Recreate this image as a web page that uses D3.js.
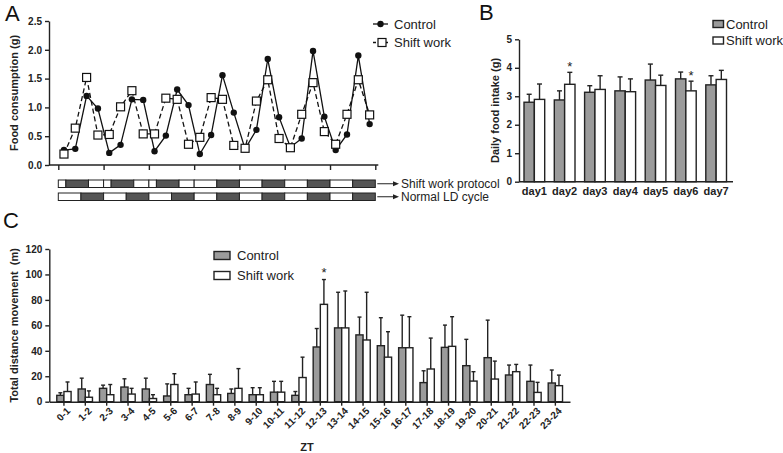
<!DOCTYPE html>
<html lang="en">
    <head>
        <meta charset="utf-8">
        <title>Shift work feeding and activity</title>
        <script type="text/javascript" src="https://d3js.org/d3.v7.min.js"></script>
        <style>
            body {
                margin: 0;
                background: white;
                font-family: Arial, "Liberation Sans", sans-serif;
            }
            .panelLetter { font-size: 22px; fill: #111; }
            .tick text { font-weight: bold; font-size: 10px; fill: #222; font-family: Arial, "Liberation Sans", sans-serif; }
            .axis path, .axis line { stroke: #222; stroke-width: 1.4; }
            .axisTitle { font-weight: bold; font-size: 11px; fill: #222; }
            .legendText { font-size: 13px; fill: #222; }
            .bar { stroke: #222; stroke-width: 1.4; }
            .err { stroke: #222; stroke-width: 1.4; fill: none; }
        </style>
    </head>
    <body>
        <div id="svgContainer"></div>
        <script type="text/javascript">
            //panel A: food consumption every 6 h over 7 days
            let foodControl = [0.26, 0.28, 1.20, 0.98, 0.21, 0.35, 1.14, 1.13, 0.24, 0.51, 1.31, 1.04,
                               0.19, 0.52, 1.56, 0.91, 0.28, 0.61, 1.84, 0.83, 0.31, 0.46, 1.98, 0.84,
                               0.26, 0.53, 1.90, 0.71];
            let foodShift = [0.19, 0.64, 1.52, 0.52, 0.53, 1.01, 1.29, 0.54, 0.54, 1.16, 1.14, 0.36,
                             0.48, 1.17, 1.14, 0.34, 0.29, 1.11, 1.48, 0.46, 0.30, 0.88, 1.43, 0.58,
                             0.36, 0.88, 1.48, 0.87];
            let foodTicks = [0, 0.5, 1, 1.5, 2, 2.5];
            //dark period (hours) for each day
            let shiftDark = [[4, 16], [4, 16], [4, 16], [12, 24], [12, 24], [12, 24], [12, 24]];
            let normalDark = [[12, 24], [12, 24], [12, 24], [12, 24], [12, 24], [12, 24], [12, 24]];

            //panel B: daily food intake
            let days = ["day1", "day2", "day3", "day4", "day5", "day6", "day7"];
            let intakeControl = [2.79, 2.87, 3.14, 3.19, 3.57, 3.61, 3.40];
            let intakeControlErr = [0.28, 0.32, 0.23, 0.49, 0.56, 0.24, 0.32];
            let intakeShift = [2.89, 3.42, 3.24, 3.16, 3.38, 3.19, 3.59];
            let intakeShiftErr = [0.54, 0.42, 0.48, 0.45, 0.36, 0.34, 0.32];
            let intakeStars = ["day2", "day6"];

            //panel C: total distance movement per ZT hour
            let ztBins = ["0-1", "1-2", "2-3", "3-4", "4-5", "5-6", "6-7", "7-8", "8-9", "9-10", "10-11", "11-12",
                          "12-13", "13-14", "14-15", "15-16", "16-17", "17-18", "18-19", "19-20", "20-21", "21-22", "22-23", "23-24"];
            let moveControl = [5, 10, 10.5, 11.5, 10, 4.5, 5.5, 13.5, 6.5, 5.5, 7.5, 5,
                               43, 58, 52.5, 44, 42.4, 15, 42.7, 28.3, 34.6, 21, 16, 14.7];
            let moveControlErr = [2, 8.5, 2.5, 6.5, 8.5, 9.5, 5, 8, 3.5, 5.5, 8.5, 3,
                                  14.5, 28, 14, 22, 25.6, 9.3, 17.5, 20.7, 29.5, 7.8, 12.8, 10.2];
            let moveShift = [8, 3.5, 5.5, 6, 2.5, 13.5, 6, 5.5, 10.5, 5.5, 7.5, 19,
                             76.5, 58, 48.5, 35, 42.4, 25.7, 43.5, 16.2, 17.8, 23.6, 7.3, 12.6];
            let moveShiftErr = [7.5, 5, 8, 4.5, 3, 8.5, 9.5, 5, 15.5, 5.5, 8.5, 16,
                                19.5, 29, 37.5, 20, 24.4, 24.3, 23.3, 7.4, 14.1, 5.7, 7.9, 8.3];
            let moveTicks = [0, 20, 40, 60, 80, 100, 120];
            let moveStars = ["12-13"];

            let w = 783, h = 453;
            let svg = d3.select("#svgContainer")
                        .append("svg")
                        .attr("width", w)
                        .attr("height", h);

            //panel letters
            svg.append("text").attr("class", "panelLetter").attr("x", 5).attr("y", 21).text("A");
            svg.append("text").attr("class", "panelLetter").attr("x", 479).attr("y", 20).text("B");
            svg.append("text").attr("class", "panelLetter").attr("x", 3).attr("y", 228).text("C");

            // ---------- panel A ----------
            let xA = d3.scaleLinear().domain([0, 168]).range([58.3, 375.3]);
            let yA = d3.scaleLinear().domain([0, 2.5]).range([165, 21]);
            let hours = foodControl.map((d, i) => i * 6 + 3);

            svg.append("g")
                .attr("class", "axis")
                .attr("transform", "translate(49, 0)")
                .call(d3.axisLeft(yA).tickValues(foodTicks).tickFormat(d3.format(".1f")).tickSize(4).tickSizeOuter(0));

            svg.append("line")
                .attr("x1", 49).attr("x2", xA(168) + 3)
                .attr("y1", yA(0)).attr("y2", yA(0))
                .attr("stroke", "#222").attr("stroke-width", 1.4);

            svg.append("g")
                .attr("class", "axis")
                .attr("transform", `translate(0, ${yA(0)})`)
                .call(d3.axisBottom(xA).tickValues(d3.range(0, 169, 24)).tickFormat("").tickSize(5).tickSizeOuter(0))
                .select(".domain").remove();

            svg.append("text")
                .attr("class", "axisTitle")
                .attr("transform", `translate(18, ${yA(1.25)}) rotate(-90)`)
                .attr("text-anchor", "middle")
                .text("Food consumption (g)");

            let lineA = d3.line().x((d, i) => xA(hours[i])).y(d => yA(d));

            svg.append("path")
                .datum(foodShift)
                .attr("d", lineA)
                .attr("fill", "none")
                .attr("stroke", "#111")
                .attr("stroke-width", 1.3)
                .attr("stroke-dasharray", "5,3");

            svg.append("path")
                .datum(foodControl)
                .attr("d", lineA)
                .attr("fill", "none")
                .attr("stroke", "#111")
                .attr("stroke-width", 1.3);

            svg.selectAll(".ptControl")
                .data(foodControl)
                .enter()
                .append("circle")
                .attr("class", "ptControl")
                .attr("cx", (d, i) => xA(hours[i]))
                .attr("cy", d => yA(d))
                .attr("r", 3.2)
                .attr("fill", "#111");

            svg.selectAll(".ptShift")
                .data(foodShift)
                .enter()
                .append("rect")
                .attr("class", "ptShift")
                .attr("x", (d, i) => xA(hours[i]) - 4)
                .attr("y", d => yA(d) - 4)
                .attr("width", 8)
                .attr("height", 8)
                .attr("fill", "white")
                .attr("stroke", "#111")
                .attr("stroke-width", 1.2);

            //legend A
            let legA = svg.append("g");
            legA.append("line").attr("x1", 373).attr("x2", 388).attr("y1", 24).attr("y2", 24)
                .attr("stroke", "#111").attr("stroke-width", 1.3);
            legA.append("circle").attr("cx", 380.5).attr("cy", 24).attr("r", 3.2).attr("fill", "#111");
            legA.append("text").attr("class", "legendText").attr("x", 394).attr("y", 28.5).text("Control");
            legA.append("line").attr("x1", 373).attr("x2", 390).attr("y1", 42.5).attr("y2", 42.5)
                .attr("stroke", "#111").attr("stroke-width", 1.3).attr("stroke-dasharray", "3,3");
            legA.append("rect").attr("x", 378).attr("y", 38.5).attr("width", 8).attr("height", 8)
                .attr("fill", "white").attr("stroke", "#111").attr("stroke-width", 1.2);
            legA.append("text").attr("class", "legendText").attr("x", 394).attr("y", 47).text("Shift work");

            //light/dark protocol rows
            const drawRow = (dark, y0, label) => {
                let segs = [];
                dark.forEach((d, i) => {
                    let base = i * 24;
                    if (d[0] > 0) segs.push([base, base + d[0], false]);
                    segs.push([base + d[0], base + d[1], true]);
                    if (d[1] < 24) segs.push([base + d[1], base + 24, false]);
                });
                svg.selectAll(null)
                    .data(segs)
                    .enter()
                    .append("rect")
                    .attr("x", d => xA(d[0]))
                    .attr("y", y0)
                    .attr("width", d => xA(d[1]) - xA(d[0]))
                    .attr("height", 7.5)
                    .attr("fill", d => d[2] ? "#555" : "white")
                    .attr("stroke", "#222")
                    .attr("stroke-width", 1);
                let yc = y0 + 3.75;
                svg.append("line")
                    .attr("x1", xA(168) + 2).attr("x2", 395)
                    .attr("y1", yc).attr("y2", yc)
                    .attr("stroke", "#222").attr("stroke-width", 1);
                svg.append("path")
                    .attr("d", `M399,${yc} L393,${yc - 2.5} L393,${yc + 2.5} Z`)
                    .attr("fill", "#222");
                svg.append("text")
                    .attr("x", 401)
                    .attr("y", yc + 4)
                    .attr("font-size", "12px")
                    .attr("fill", "#222")
                    .text(label);
            };
            drawRow(shiftDark, 180, "Shift work protocol");
            drawRow(normalDark, 193, "Normal LD cycle");

            // ---------- panel B ----------
            let xB = d3.scaleBand().domain(days).range([519, 731.5]).paddingInner(0.317).paddingOuter(0.165);
            let yB = d3.scaleLinear().domain([0, 5]).range([181.7, 39.3]);
            let bwB = xB.bandwidth() / 2;

            svg.append("g")
                .attr("class", "axis")
                .attr("transform", "translate(519, 0)")
                .call(d3.axisLeft(yB).ticks(5).tickSize(4).tickSizeOuter(0));

            let xAxisB = svg.append("g")
                .attr("class", "axis")
                .attr("transform", `translate(0, ${yB(0)})`)
                .call(d3.axisBottom(xB).tickSize(0).tickPadding(6).tickSizeOuter(0));
            xAxisB.select(".domain").attr("d", `M519,0H733`);
            xAxisB.selectAll(".tick text").style("font-size", "11px");

            svg.append("text")
                .attr("class", "axisTitle")
                .attr("transform", `translate(499, ${yB(2.5)}) rotate(-90)`)
                .attr("text-anchor", "middle")
                .text("Daily food intake (g)");

            const drawBars = (xs, ys, cats, vals, errs, offset, fill, bw, cap) => {
                svg.selectAll(null)
                    .data(cats)
                    .enter()
                    .append("line")
                    .attr("class", "err")
                    .attr("x1", d => xs(d) + offset + bw / 2)
                    .attr("x2", d => xs(d) + offset + bw / 2)
                    .attr("y1", (d, i) => ys(vals[i]))
                    .attr("y2", (d, i) => ys(vals[i] + errs[i]));
                svg.selectAll(null)
                    .data(cats)
                    .enter()
                    .append("line")
                    .attr("class", "err")
                    .attr("x1", d => xs(d) + offset + bw / 2 - cap)
                    .attr("x2", d => xs(d) + offset + bw / 2 + cap)
                    .attr("y1", (d, i) => ys(vals[i] + errs[i]))
                    .attr("y2", (d, i) => ys(vals[i] + errs[i]));
                svg.selectAll(null)
                    .data(cats)
                    .enter()
                    .append("rect")
                    .attr("class", "bar")
                    .attr("x", d => xs(d) + offset)
                    .attr("y", (d, i) => ys(vals[i]))
                    .attr("width", bw)
                    .attr("height", (d, i) => ys(0) - ys(vals[i]))
                    .attr("fill", fill);
            };

            drawBars(xB, yB, days, intakeControl, intakeControlErr, 0, "#9b9b9b", bwB, 2.5);
            drawBars(xB, yB, days, intakeShift, intakeShiftErr, bwB, "white", bwB, 2.5);

            svg.selectAll(null)
                .data(intakeStars)
                .enter()
                .append("text")
                .attr("x", d => xB(d) + bwB * 1.5)
                .attr("y", d => yB(intakeShift[days.indexOf(d)] + intakeShiftErr[days.indexOf(d)]) - 1)
                .attr("text-anchor", "middle")
                .attr("font-size", "13px")
                .attr("fill", "#222")
                .text("*");

            //legend B
            svg.append("rect").attr("class", "bar").attr("x", 713).attr("y", 20.5).attr("width", 10.5).attr("height", 7)
                .attr("fill", "#9b9b9b");
            svg.append("text").attr("class", "legendText").attr("x", 726).attr("y", 28.5).text("Control");
            svg.append("rect").attr("class", "bar").attr("x", 713).attr("y", 37).attr("width", 10.5).attr("height", 7)
                .attr("fill", "white");
            svg.append("text").attr("class", "legendText").attr("x", 726).attr("y", 45).text("Shift work");

            // ---------- panel C ----------
            let xC = d3.scaleBand().domain(ztBins).range([49.3, 570]).paddingInner(0.33).paddingOuter(0.35);
            let yC = d3.scaleLinear().domain([0, 120]).range([401.7, 249]);
            let bwC = xC.bandwidth() / 2;

            svg.append("g")
                .attr("class", "axis")
                .attr("transform", "translate(49.3, 0)")
                .call(d3.axisLeft(yC).tickValues(moveTicks).tickSize(4).tickSizeOuter(0));

            let xAxisC = svg.append("g")
                .attr("class", "axis")
                .attr("transform", `translate(0, ${yC(0)})`)
                .call(d3.axisBottom(xC).tickSize(4).tickSizeOuter(0));
            xAxisC.selectAll(".tick text")
                .style("text-anchor", "end")
                .attr("dx", "-0.2em")
                .attr("dy", "0.5em")
                .attr("transform", "rotate(-45)");

            svg.append("text")
                .attr("class", "axisTitle")
                .attr("transform", `translate(18, ${yC(60)}) rotate(-90)`)
                .attr("text-anchor", "middle")
                .attr("xml:space", "preserve")
                .style("white-space", "pre")
                .text("Total distance movement  (m)");

            svg.append("text")
                .attr("class", "axisTitle")
                .attr("x", 307)
                .attr("y", 451)
                .attr("text-anchor", "middle")
                .text("ZT");

            drawBars(xC, yC, ztBins, moveControl, moveControlErr, 0, "#9b9b9b", bwC, 2);
            drawBars(xC, yC, ztBins, moveShift, moveShiftErr, bwC, "white", bwC, 2);

            svg.selectAll(null)
                .data(moveStars)
                .enter()
                .append("text")
                .attr("x", d => xC(d) + bwC * 1.5)
                .attr("y", d => yC(moveShift[ztBins.indexOf(d)] + moveShiftErr[ztBins.indexOf(d)]) - 3)
                .attr("text-anchor", "middle")
                .attr("font-size", "13px")
                .attr("fill", "#222")
                .text("*");

            //legend C
            svg.append("rect").attr("class", "bar").attr("x", 214).attr("y", 251.5).attr("width", 16).attr("height", 8)
                .attr("fill", "#9b9b9b");
            svg.append("text").attr("class", "legendText").attr("x", 237).attr("y", 260).text("Control");
            svg.append("rect").attr("class", "bar").attr("x", 214).attr("y", 271.5).attr("width", 16).attr("height", 8)
                .attr("fill", "white");
            svg.append("text").attr("class", "legendText").attr("x", 237).attr("y", 280).text("Shift work");
        </script>
    </body>
</html>
